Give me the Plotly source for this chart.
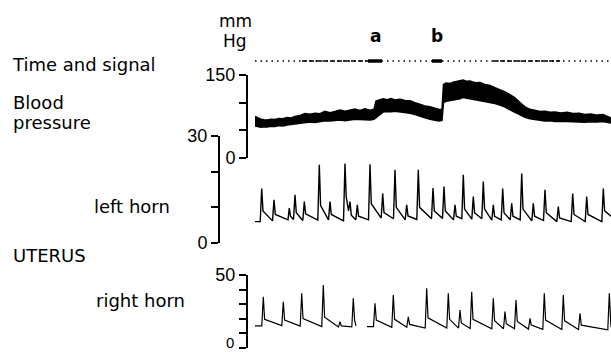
import plotly.graph_objects as go

W, H = 611, 352

# ---------------- data (time in arbitrary units along the record) ----------------
# Blood pressure band (systolic / diastolic, mm Hg)
bp_t = [0, 3, 6, 9, 12, 16, 20, 24, 28, 32, 36, 40, 45, 50, 55, 60, 65, 70, 75, 80,
        85, 90, 95, 100, 105, 110, 115, 119,
        121, 124, 128, 132, 136, 140, 145, 150, 155, 160, 165, 170, 175, 180, 184, 187,
        188.5, 191, 195, 198, 202, 205, 208, 212, 215, 220, 225, 230, 235, 240, 245,
        250, 255, 260, 265, 270, 275, 280, 285, 290, 295, 300, 306, 312, 318, 324,
        330, 336, 342, 348, 352, 356]
bp_sys = [75, 72, 70, 69, 68.5, 70, 69.5, 71.5, 71, 73, 72.5, 75, 77, 80.5, 79, 81, 80,
          84.5, 82, 84, 86.5, 84.5, 87, 88.5, 86, 89, 86.5, 88,
          103, 105, 107, 105.5, 107.5, 105, 106, 104, 103.5, 100, 97, 94, 92.5, 89.5,
          87.5, 88,
          133, 135.5, 134.5, 137, 138.5, 139.5, 141, 138.5, 139, 136, 136.5, 133, 131,
          127, 123.5, 119.5, 114.5, 108.5, 100, 92.5, 88, 86.5, 84, 84.5, 82.5, 83,
          81.5, 82.5, 80.5, 81, 78.5, 79.5, 77.5, 78.5, 75.5, 72]
bp_dia = [58, 57, 55.5, 56.5, 56, 57.5, 57, 58.5, 58, 59.5, 60.5, 61, 62.5, 64, 65, 64,
          66, 67.5, 67, 68, 68.5, 67.5, 69, 70, 69.5, 69, 68.5, 70,
          73, 78, 83, 84, 83.5, 84.5, 83.5, 82.5, 81, 78.5, 75, 72.5, 70, 68.5, 67, 68,
          100, 102.5, 103.5, 104, 105, 107, 109.5, 108, 107.5, 106, 104.5, 102.5, 100.5,
          98.5, 95.5, 92, 87, 82, 78, 73.5, 71, 69.5, 68.5, 67, 67.5, 66,
          66.5, 65.5, 65.5, 65, 64.5, 65.5, 65, 66, 64.5, 63]

# Uterus, left horn (mm Hg)
lh_t = [0, 5.2, 6.7, 8.0, 17.5, 19, 20.3, 33, 34.3, 35.5, 38.5, 40, 41.3, 47.8, 49.3, 50.6,
        62.8, 64.3, 65.6, 73.5, 75, 76.3, 88.5, 90, 91.2, 93.5, 95, 96.3, 100.8, 102.3, 103.6,
        113.5, 115, 116.3, 126.2, 127.7, 129, 138.5, 140, 141.3, 150.2, 151.7, 153,
        161.8, 163.3, 164.6, 176.5, 178, 179.3, 187.5, 189, 190.3, 198.5, 200, 201.3,
        206.8, 208.3, 209.6, 216.8, 218.3, 219.6, 226.8, 228.3, 229.6, 236.8, 238.3, 239.6,
        246.2, 247.7, 249, 255.2, 256.7, 258, 265.2, 266.7, 268, 276.8, 278.3, 279.6,
        288.5, 290, 291.3, 301.8, 303.3, 304.6, 316.2, 317.7, 319, 330.2, 331.7, 333,
        346.8, 348.3, 349.6, 356]
lh_v = [6.0, 6.0, 15.3, 9.0, 6.2, 12.1, 8.0, 6.5, 9.8, 7.5, 6.6, 13.5, 8.5, 6.3, 11.6, 8.2,
        6.4, 21.9, 10.5, 6.5, 11.6, 8.0, 6.2, 22.3, 13.0, 9.0, 11.6, 7.8, 6.5, 10.7, 7.5,
        6.5, 22.1, 11.0, 7.0, 13.9, 8.5, 6.8, 20.5, 10.0, 6.5, 10.7, 7.6,
        6.6, 20.5, 10.0, 6.8, 15.4, 9.0, 6.9, 15.8, 9.0, 6.5, 10.7, 7.5,
        6.8, 19.1, 9.5, 6.7, 13.0, 8.5, 6.8, 17.2, 9.5, 6.4, 10.7, 7.5,
        6.5, 15.3, 8.5, 6.5, 11.1, 7.5, 6.5, 19.5, 9.5, 6.2, 11.1, 7.5,
        6.3, 14.9, 8.5, 6.0, 10.2, 7.0, 6.0, 13.9, 8.0, 6.0, 13.0, 8.0,
        6.0, 15.3, 9.0, 7.5]

# Uterus, right horn (mm Hg); None = break in the record
rh_t = [0, 6.8, 8.3, 9.6, 26.8, 28.3, 29.6, 45.2, 46.7, 48, 66.8, 68.3, 69.6,
        83.5, 85, 86.3, 96.8, 98.3, 99.6, 101, None,
        112, 118.5, 120, 121.3, 136.8, 138.3, 139.6, 151.8, 153.3, 154.6,
        170.2, 171.7, 173, 191.8, 193.3, 194.6, 203.5, 205, 206.3, 215.2, 216.7, 218,
        236.8, 238.3, 239.6, 248.5, 250, 251.3, 259.5, 261, 262.3, 273.5, 275, 276.3,
        287.8, 289.3, 290.6, 306.8, 308.3, 309.6, 323.5, 325, 326.3, 352.8, 354.3, 356]
rh_v = [15.0, 15.0, 35.1, 19.5, 15.2, 31.6, 19.0, 14.8, 37.4, 20.0, 14.5, 43.1, 21.0,
        14.3, 17.9, 15.0, 14.3, 34.0, 19.0, 15.0, None,
        14.5, 14.5, 30.5, 19.0, 14.0, 36.2, 19.5, 14.0, 21.3, 16.0,
        13.5, 40.9, 20.5, 13.5, 37.4, 19.5, 13.5, 25.9, 17.0, 13.2, 38.5, 19.5,
        13.0, 34.0, 18.5, 13.0, 24.8, 16.5, 13.0, 32.8, 18.0, 12.8, 20.2, 15.5,
        12.6, 37.4, 19.0, 12.5, 36.2, 18.5, 12.5, 23.7, 15.5, 12.3, 37.4, 14.0]

# Time marker line and stimulus signals
time_range = [0, 356]
dense_marks = [[47, 113], [238, 305]]
signal_a = [113, 127]
signal_b = [177, 187]
signal_labels = ["a", "b"]

# Axis ticks
bp_ticks, bp_text = [0, 50, 100, 150], ["0", "", "", "150"]
lh_ticks, lh_text = [0, 10, 20, 30], ["0", "", "", "30"]
rh_ticks, rh_text = [0, 10, 20, 30, 40, 50], ["", "", "", "", "", "50"]
rh_zero_label = "0"   # bottom label of the right-horn scale (kept inside the frame)

# ---------------- figure ----------------
def py(p):  # pixel row -> paper y
    return 1 - p / H

def px(p):  # pixel column -> paper x
    return p / W

fig = go.Figure()

# Time & signal line
fig.add_trace(go.Scatter(x=time_range, y=[0.5, 0.5], mode="lines", yaxis="y4",
                         line=dict(color="black", width=1.3, dash="1.5px,4px"),
                         hoverinfo="skip"))
for seg in dense_marks:
    fig.add_trace(go.Scatter(x=seg, y=[0.5, 0.5], mode="lines", yaxis="y4",
                             line=dict(color="black", width=1.5, dash="5px,2px"),
                             hoverinfo="skip"))
for seg in (signal_a, signal_b):
    fig.add_trace(go.Scatter(x=seg, y=[0.5, 0.5], mode="lines", yaxis="y4",
                             line=dict(color="black", width=3.5), hoverinfo="skip"))

# Blood pressure band
fig.add_trace(go.Scatter(x=bp_t, y=bp_dia, mode="lines", yaxis="y",
                         line=dict(color="black", width=1.5)))
fig.add_trace(go.Scatter(x=bp_t, y=bp_sys, mode="lines", yaxis="y",
                         line=dict(color="black", width=1.5),
                         fill="tonexty", fillcolor="black"))

# Uterus traces
fig.add_trace(go.Scatter(x=lh_t, y=lh_v, mode="lines", yaxis="y2",
                         line=dict(color="black", width=1.4)))
fig.add_trace(go.Scatter(x=rh_t, y=rh_v, mode="lines", yaxis="y3",
                         line=dict(color="black", width=1.2), connectgaps=False))

tick_font = dict(family="Liberation Sans, Arial, sans-serif", size=18, color="black")
axis_common = dict(showline=True, linecolor="black", linewidth=2, ticks="outside",
                   ticklen=7, tickwidth=2, tickcolor="black", showgrid=False,
                   zeroline=False, anchor="free", tickfont=tick_font, fixedrange=True,
                   automargin=False)

fig.update_layout(
    width=W, height=H, margin=dict(l=0, r=0, t=0, b=0, pad=0, autoexpand=False),
    paper_bgcolor="white", plot_bgcolor="white", showlegend=False,
    xaxis=dict(domain=[px(255), 1], range=[0, 356], visible=False, fixedrange=True,
               automargin=False),
    yaxis=dict(domain=[py(158), py(75)], range=[0, 150], position=px(247),
               tickvals=bp_ticks, ticktext=bp_text, **axis_common),
    yaxis2=dict(domain=[py(243), py(136)], range=[0, 30], position=px(219),
                tickvals=lh_ticks, ticktext=lh_text, **axis_common),
    yaxis3=dict(domain=[py(347.7), py(275)], range=[0, 50], position=px(247),
                tickvals=rh_ticks, ticktext=rh_text, **axis_common),
    yaxis4=dict(domain=[py(66), py(56)], range=[0, 1], visible=False, anchor="x",
                fixedrange=True, automargin=False),
)

def label(text, x, y, anchor="left", size=18, family="DejaVu Sans, sans-serif"):
    fig.add_annotation(text=text, xref="paper", yref="paper", x=px(x), y=py(y),
                       xanchor=anchor, yanchor="middle", showarrow=False,
                       font=dict(family=family, size=size, color="black"))

label("mm", 235, 21, "center", 17)
label("Hg", 235, 41, "center", 17)
label("Time and signal", 10, 64)
label("Blood", 11, 102)
label("pressure", 11, 123)
label("left horn", 92, 206)
label("UTERUS", 11, 255)
label("right horn", 94, 300)
label(rh_zero_label, 236, 342, "right", 15, "Liberation Sans, Arial, sans-serif")

for lab, seg in zip(signal_labels, (signal_a, signal_b)):
    fig.add_annotation(text="<b>%s</b>" % lab, xref="x", yref="paper",
                       x=(seg[0] + seg[1]) / 2, y=py(36), xanchor="center",
                       yanchor="middle", showarrow=False,
                       font=dict(family="DejaVu Sans, sans-serif", size=17, color="black"))

fig.write_html("out.html", config={"displayModeBar": False})
